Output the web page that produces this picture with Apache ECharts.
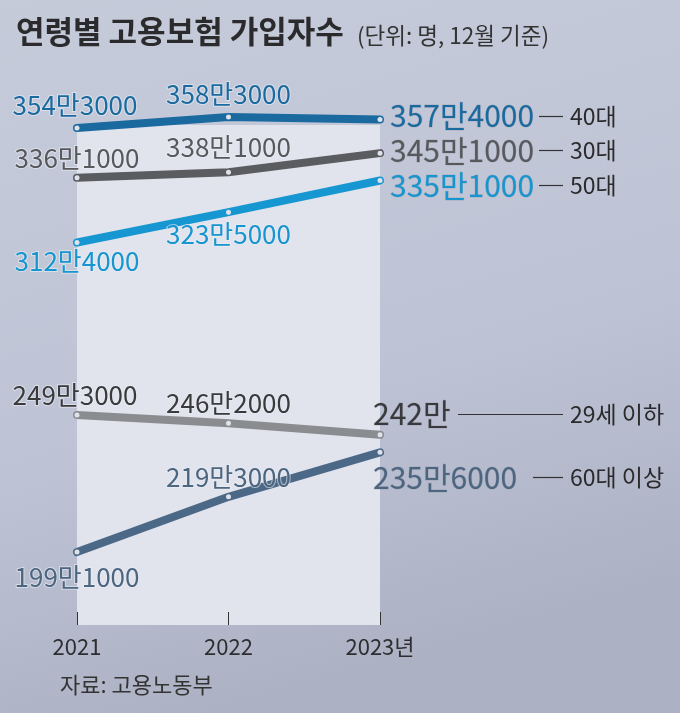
<!DOCTYPE html>
<html><head><meta charset="utf-8">
<script src="https://cdn.jsdelivr.net/npm/echarts@6/dist/echarts.min.js"></script>
<style>html,body{margin:0;padding:0;background:#c3c8d7}#c{width:680px;height:713px}</style>
</head><body><div id="c"></div>
<script>
// ---- data ----
const categories = ['2021', '2022', '2023년'];
const seriesNames = ['40대', '30대', '50대', '29세 이하', '60대 이상'];
const v40 = [3543000, 3583000, 3574000];
const v30 = [3361000, 3381000, 3451000];
const v50 = [3124000, 3235000, 3351000];
const v29 = [2493000, 2462000, 2420000];
const v60 = [1991000, 2193000, 2356000];

// ---- styling / layout ----
const FONT = '"Noto Sans CJK KR", "Noto Sans", sans-serif';
const lineColors = ['#1b6a9f', '#5b5c60', '#1797d1', '#8b8c90', '#4b6886'];
const labelColors = ['#1b6a9f', '#58595c', '#1795cf', '#3a3a3c', '#4d6680'];
// label offsets per point: [dx, dy, align]
const labelPlace = [
  [[-2, -23, 'center'], [0, -23, 'center'], [10, -4, 'left']],
  [[0, -20, 'center'], [0, -25, 'center'], [10, -3, 'left']],
  [[0, 19, 'center'], [0, 22, 'center'], [10, 5, 'left']],
  [[-2, -20, 'center'], [0, -20, 'center'], [-7, -21, 'left']],
  [[0, 25, 'center'], [0, -20, 'center'], [-7, 25, 'left']]
];
const nameLineStart = [539, 539, 539, 458, 533];

function fmt(v) {
  const man = Math.floor(v / 10000), rest = v % 10000;
  return man + '만' + (rest ? rest : '');
}

const allVals = [v40, v30, v50, v29, v60];
const series = allVals.map((vals, si) => ({
  type: 'line',
  name: seriesNames[si],
  clip: false,
  z: 5 - si + 2,
  symbol: 'circle',
  symbolSize: 5,
  showSymbol: true,
  lineStyle: { color: lineColors[si], width: 8, cap: 'round', join: 'round' },
  itemStyle: { color: '#dfe2ea', borderWidth: 0 },
  emphasis: { disabled: true },
  data: vals.map((v, i) => {
    const p = labelPlace[si][i];
    const last = i === vals.length - 1;
    return {
      value: v,
      label: {
        show: true,
        position: 'inside',
        align: p[2],
        verticalAlign: 'middle',
        offset: [p[0], p[1]],
        formatter: () => fmt(v),
        color: labelColors[si],
        fontFamily: FONT,
        fontSize: last ? 30 : 26,
        fontWeight: 'normal',
        textBorderColor: last ? 'rgba(90,100,120,0.25)' : 'rgba(235,238,245,0.6)',
        textBorderWidth: last ? 0.8 : 2
      }
    };
  })
}));

const chart = echarts.init(document.getElementById('c'));
const option = {
  animation: false,
  backgroundColor: {
    type: 'linear', x: 0, y: 0, x2: 0.3, y2: 1,
    colorStops: [
      { offset: 0, color: '#c6cbda' },
      { offset: 0.6, color: '#bec4d5' },
      { offset: 1, color: '#adb1c4' }
    ]
  },
  title: [
    { text: '연령별 고용보험 가입자수', left: 11, top: 11,
      textStyle: { fontFamily: FONT, fontSize: 31, fontWeight: 'bold', color: '#2b2b2d' } },
    { text: '(단위: 명, 12월 기준)', left: 352, top: 19,
      textStyle: { fontFamily: FONT, fontSize: 22.5, fontWeight: 'normal', color: '#333' } },
    { text: '자료: 고용노동부', left: 55, top: 669,
      textStyle: { fontFamily: FONT, fontSize: 22, fontWeight: 'normal', color: '#333' } }
  ],
  grid: { left: 77, right: 300, top: 125, bottom: 88, show: true,
    backgroundColor: '#e1e3ed', borderWidth: 0 },
  xAxis: {
    type: 'category', data: categories, boundaryGap: false,
    axisLine: { show: false },
    axisTick: { show: true, inside: true, length: 13, lineStyle: { color: '#333', width: 1 } },
    axisLabel: { margin: 11, fontFamily: FONT, fontSize: 22, color: '#2e2e30' },
    splitLine: { show: false }
  },
  yAxis: {
    type: 'value', min: 1724000, max: 3554000,
    show: false, splitLine: { show: false }
  },
  series: series
};
chart.setOption(option);

// right-side series names with leader lines, positioned from the last data point
const graphics = [];
allVals.forEach((vals, si) => {
  const li = vals.length - 1;
  const p = chart.convertToPixel({ seriesIndex: si }, [li, vals[li]]);
  const y = Math.round(p[1] + labelPlace[si][li][1]) + 0.5;
  graphics.push({
    type: 'line', silent: true,
    shape: { x1: nameLineStart[si], y1: y, x2: 563, y2: y },
    style: { stroke: '#333', lineWidth: 1.2 }
  });
  graphics.push({
    type: 'text', silent: true, x: 570, y: y,
    style: { text: seriesNames[si], fill: '#2a2a2c', font: '23px ' + FONT,
      textVerticalAlign: 'middle', verticalAlign: 'middle' }
  });
});
chart.setOption({ graphic: graphics });
</script>
</body></html>
